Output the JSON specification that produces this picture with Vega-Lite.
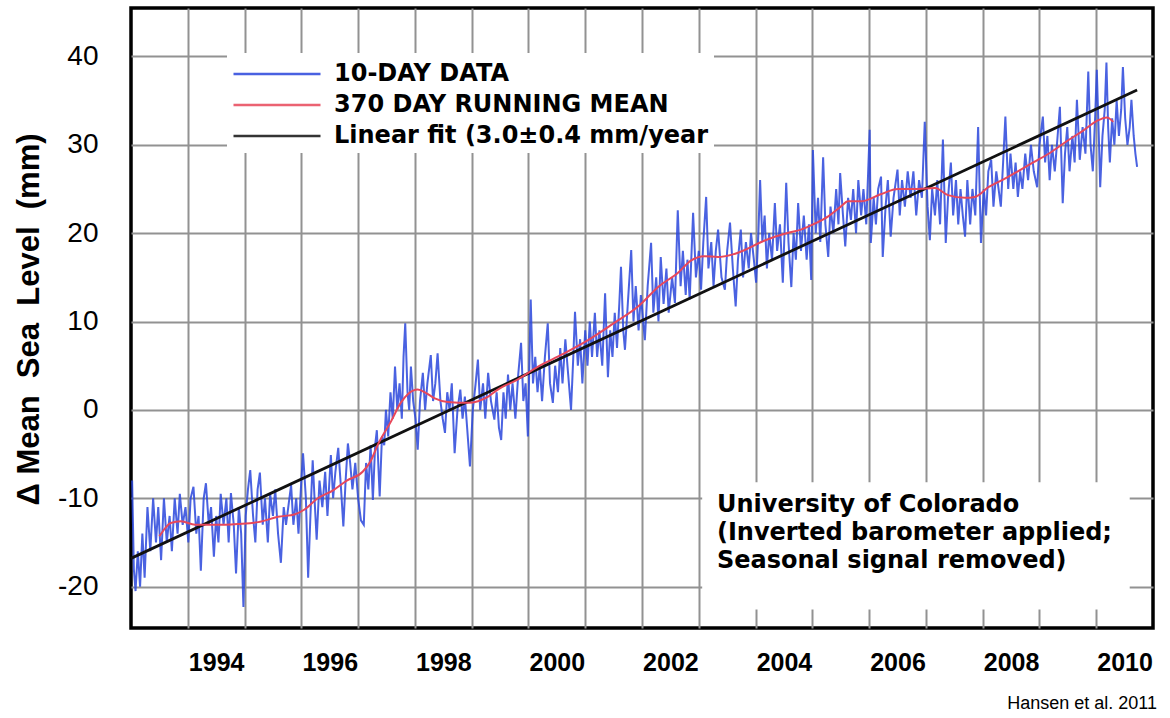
{
  "$schema": "https://vega.github.io/schema/vega-lite/v6.json",
  "width": 1022,
  "height": 620,
  "autosize": "none",
  "padding": {"left": 131, "top": 8, "right": 17, "bottom": 90},
  "background": "white",
  "title": {"text": "Hansen et al. 2011", "orient": "bottom", "anchor": "end", "font": "Liberation Sans", "fontSize": 18, "fontWeight": "normal", "color": "black", "offset": 20, "dx": 4},
  "config": {
    "view": {"stroke": "black", "strokeWidth": 3.5},
    "axis": {"gridColor": "#929292", "gridWidth": 2, "gridOpacity": 1, "ticks": false, "tickSize": 0, "domain": false, "labelColor": "black"}
  },
  "datasets": {
    "blue": [
      {"t":1992.52,"v":-8},{"t":1992.55,"v":-18},{"t":1992.58,"v":-20.5},{"t":1992.62,"v":-16},{"t":1992.66,"v":-20},{"t":1992.70,"v":-14},{"t":1992.74,"v":-19},{"t":1992.79,"v":-11},{"t":1992.84,"v":-16},{"t":1992.89,"v":-10},{"t":1992.94,"v":-15},{"t":1992.98,"v":-11},
      {"t":1993.03,"v":-17},{"t":1993.08,"v":-10},{"t":1993.13,"v":-15},{"t":1993.18,"v":-12},{"t":1993.22,"v":-16},{"t":1993.27,"v":-10},{"t":1993.32,"v":-14},{"t":1993.36,"v":-9.5},{"t":1993.41,"v":-13},{"t":1993.46,"v":-11},{"t":1993.51,"v":-15},
      {"t":1993.55,"v":-10},{"t":1993.60,"v":-8.7},{"t":1993.65,"v":-14},{"t":1993.69,"v":-12},{"t":1993.73,"v":-18.2},{"t":1993.78,"v":-10},{"t":1993.82,"v":-8.3},{"t":1993.87,"v":-13},{"t":1993.91,"v":-11},{"t":1993.96,"v":-16.6},{"t":1994.00,"v":-12},
      {"t":1994.04,"v":-15},{"t":1994.08,"v":-9.5},{"t":1994.13,"v":-13},{"t":1994.18,"v":-10},{"t":1994.22,"v":-15},{"t":1994.26,"v":-9.4},{"t":1994.31,"v":-13},{"t":1994.35,"v":-18.5},{"t":1994.40,"v":-11},{"t":1994.44,"v":-14},{"t":1994.48,"v":-22.3},{"t":1994.52,"v":-12},
      {"t":1994.56,"v":-9},{"t":1994.60,"v":-6.8},{"t":1994.65,"v":-12},{"t":1994.69,"v":-15},{"t":1994.73,"v":-9},{"t":1994.77,"v":-7.1},{"t":1994.82,"v":-13},{"t":1994.86,"v":-10},{"t":1994.91,"v":-15},{"t":1994.95,"v":-9.5},{"t":1995.00,"v":-12},
      {"t":1995.04,"v":-9},{"t":1995.09,"v":-14},{"t":1995.14,"v":-17.3},{"t":1995.19,"v":-11},{"t":1995.23,"v":-13},{"t":1995.28,"v":-10.5},{"t":1995.32,"v":-8.5},{"t":1995.36,"v":-13},{"t":1995.41,"v":-10},{"t":1995.45,"v":-14},{"t":1995.50,"v":-8},
      {"t":1995.53,"v":-4.9},{"t":1995.58,"v":-10},{"t":1995.62,"v":-19},{"t":1995.66,"v":-12},{"t":1995.70,"v":-5.7},{"t":1995.74,"v":-11},{"t":1995.77,"v":-14.7},{"t":1995.82,"v":-8},{"t":1995.87,"v":-11},{"t":1995.92,"v":-7},{"t":1995.96,"v":-12},{"t":1996.02,"v":-5.1},
      {"t":1996.06,"v":-10},{"t":1996.10,"v":-7},{"t":1996.15,"v":-4.3},{"t":1996.20,"v":-9},{"t":1996.24,"v":-13.2},{"t":1996.28,"v":-8},{"t":1996.32,"v":-3.8},{"t":1996.36,"v":-6},{"t":1996.40,"v":-9},{"t":1996.45,"v":-6},{"t":1996.50,"v":-10},
      {"t":1996.55,"v":-12.5},{"t":1996.60,"v":-13},{"t":1996.64,"v":-6},{"t":1996.68,"v":-9},{"t":1996.72,"v":-4},{"t":1996.76,"v":-10.2},{"t":1996.80,"v":-4},{"t":1996.83,"v":-2.3},{"t":1996.88,"v":-9.8},{"t":1996.92,"v":-3},{"t":1996.96,"v":-4},{"t":1996.99,"v":0},
      {"t":1997.03,"v":-3},{"t":1997.07,"v":2},{"t":1997.11,"v":-1},{"t":1997.15,"v":4.9},{"t":1997.19,"v":0},{"t":1997.23,"v":3},{"t":1997.27,"v":-1},{"t":1997.30,"v":6},{"t":1997.33,"v":9.8},{"t":1997.37,"v":2},{"t":1997.40,"v":0},{"t":1997.43,"v":4.9},{"t":1997.47,"v":1},{"t":1997.51,"v":-1},
      {"t":1997.55,"v":-4.5},{"t":1997.59,"v":1},{"t":1997.64,"v":4.2},{"t":1997.68,"v":0},{"t":1997.72,"v":3},{"t":1997.78,"v":6.2},{"t":1997.82,"v":1},{"t":1997.86,"v":3},{"t":1997.90,"v":6.4},{"t":1997.95,"v":1},{"t":1997.99,"v":-1},
      {"t":1998.03,"v":-2.6},{"t":1998.07,"v":2},{"t":1998.11,"v":0},{"t":1998.15,"v":3},{"t":1998.20,"v":-4.9},{"t":1998.25,"v":0},{"t":1998.30,"v":2.3},{"t":1998.34,"v":-1},{"t":1998.38,"v":1.5},{"t":1998.42,"v":-2},{"t":1998.47,"v":-6.4},
      {"t":1998.52,"v":0},{"t":1998.57,"v":3},{"t":1998.61,"v":5.7},{"t":1998.65,"v":0},{"t":1998.70,"v":3},{"t":1998.74,"v":-1},{"t":1998.79,"v":4.2},{"t":1998.84,"v":1},{"t":1998.90,"v":-1.1},{"t":1998.94,"v":2},{"t":1998.98,"v":-2},
      {"t":1999.02,"v":-3.4},{"t":1999.06,"v":2},{"t":1999.10,"v":-1},{"t":1999.14,"v":4},{"t":1999.18,"v":0},{"t":1999.22,"v":3},{"t":1999.27,"v":-1},{"t":1999.32,"v":4},{"t":1999.37,"v":7.6},{"t":1999.41,"v":1},{"t":1999.45,"v":3},{"t":1999.49,"v":-3},
      {"t":1999.54,"v":12.5},{"t":1999.58,"v":3},{"t":1999.62,"v":6},{"t":1999.66,"v":2},{"t":1999.70,"v":5},{"t":1999.74,"v":1},{"t":1999.79,"v":6},{"t":1999.84,"v":9.8},{"t":1999.88,"v":3},{"t":1999.93,"v":0.8},{"t":1999.97,"v":5},
      {"t":2000.02,"v":2},{"t":2000.06,"v":7},{"t":2000.10,"v":3},{"t":2000.15,"v":8},{"t":2000.20,"v":4},{"t":2000.25,"v":0},{"t":2000.29,"v":6},{"t":2000.32,"v":11.1},{"t":2000.37,"v":5},{"t":2000.41,"v":8},{"t":2000.45,"v":3},{"t":2000.50,"v":9},
      {"t":2000.54,"v":5},{"t":2000.58,"v":10},{"t":2000.62,"v":6},{"t":2000.67,"v":11},{"t":2000.71,"v":6},{"t":2000.75,"v":9},{"t":2000.80,"v":5},{"t":2000.85,"v":13.2},{"t":2000.90,"v":3.7},{"t":2000.94,"v":9},{"t":2000.98,"v":6},
      {"t":2001.02,"v":11},{"t":2001.06,"v":7},{"t":2001.10,"v":12},{"t":2001.13,"v":16.2},{"t":2001.17,"v":9},{"t":2001.20,"v":6.8},{"t":2001.25,"v":12},{"t":2001.31,"v":18.1},{"t":2001.35,"v":10},{"t":2001.39,"v":14},{"t":2001.44,"v":9},{"t":2001.48,"v":13},
      {"t":2001.55,"v":7.9},{"t":2001.60,"v":14},{"t":2001.66,"v":18.9},{"t":2001.70,"v":11},{"t":2001.75,"v":15},{"t":2001.79,"v":10},{"t":2001.83,"v":17.3},{"t":2001.88,"v":12},{"t":2001.93,"v":16},{"t":2001.97,"v":11},
      {"t":2002.03,"v":15},{"t":2002.08,"v":12.1},{"t":2002.13,"v":22.6},{"t":2002.18,"v":14},{"t":2002.22,"v":18},{"t":2002.27,"v":13},{"t":2002.30,"v":17},{"t":2002.34,"v":12.5},{"t":2002.40,"v":22.3},{"t":2002.45,"v":15},{"t":2002.50,"v":18},
      {"t":2002.54,"v":13.6},{"t":2002.58,"v":19},{"t":2002.63,"v":24.1},{"t":2002.67,"v":16},{"t":2002.72,"v":19},{"t":2002.76,"v":14},{"t":2002.80,"v":18},{"t":2002.84,"v":20.4},{"t":2002.90,"v":15},{"t":2002.96,"v":13.6},{"t":2003.00,"v":18},
      {"t":2003.05,"v":21.2},{"t":2003.10,"v":16},{"t":2003.15,"v":11.7},{"t":2003.19,"v":17},{"t":2003.24,"v":20.4},{"t":2003.28,"v":15},{"t":2003.33,"v":19},{"t":2003.38,"v":16},{"t":2003.42,"v":20},{"t":2003.47,"v":17},{"t":2003.51,"v":14.4},
      {"t":2003.55,"v":20},{"t":2003.58,"v":26},{"t":2003.62,"v":19},{"t":2003.66,"v":22},{"t":2003.70,"v":16},{"t":2003.74,"v":20},{"t":2003.79,"v":17},{"t":2003.84,"v":23.4},{"t":2003.88,"v":18},{"t":2003.93,"v":21},{"t":2003.98,"v":14.4},
      {"t":2004.04,"v":25.7},{"t":2004.08,"v":19},{"t":2004.13,"v":13.9},{"t":2004.17,"v":20},{"t":2004.21,"v":17},{"t":2004.25,"v":23.4},{"t":2004.30,"v":18},{"t":2004.35,"v":22},{"t":2004.40,"v":17},{"t":2004.44,"v":21},{"t":2004.48,"v":14.7},
      {"t":2004.51,"v":29.4},{"t":2004.56,"v":20},{"t":2004.60,"v":24},{"t":2004.64,"v":19},{"t":2004.69,"v":28.6},{"t":2004.73,"v":21},{"t":2004.78,"v":17.3},{"t":2004.82,"v":23},{"t":2004.87,"v":20},{"t":2004.92,"v":25},{"t":2004.96,"v":21},{"t":2004.99,"v":26.8},
      {"t":2005.04,"v":22},{"t":2005.08,"v":18.5},{"t":2005.13,"v":24},{"t":2005.18,"v":21.5},{"t":2005.22,"v":25},{"t":2005.27,"v":20},{"t":2005.31,"v":26},{"t":2005.36,"v":22},{"t":2005.40,"v":25},{"t":2005.45,"v":21},{"t":2005.51,"v":31.7},
      {"t":2005.53,"v":18.9},{"t":2005.58,"v":24},{"t":2005.62,"v":21},{"t":2005.66,"v":25},{"t":2005.71,"v":26.4},{"t":2005.74,"v":17.3},{"t":2005.79,"v":23},{"t":2005.83,"v":26},{"t":2005.88,"v":19.6},{"t":2005.93,"v":24},{"t":2006.00,"v":27.2},
      {"t":2006.04,"v":22},{"t":2006.08,"v":26},{"t":2006.13,"v":23},{"t":2006.18,"v":27},{"t":2006.23,"v":24},{"t":2006.28,"v":27},{"t":2006.33,"v":22},{"t":2006.38,"v":26},{"t":2006.43,"v":24},{"t":2006.48,"v":32.6},
      {"t":2006.53,"v":23},{"t":2006.57,"v":19.2},{"t":2006.61,"v":25},{"t":2006.66,"v":22},{"t":2006.70,"v":26},{"t":2006.75,"v":21},{"t":2006.80,"v":30.6},{"t":2006.85,"v":18.9},{"t":2006.89,"v":24},{"t":2006.94,"v":28},{"t":2006.98,"v":22},
      {"t":2007.03,"v":26},{"t":2007.07,"v":21},{"t":2007.11,"v":25},{"t":2007.15,"v":22},{"t":2007.19,"v":19.6},{"t":2007.23,"v":26},{"t":2007.28,"v":21},{"t":2007.32,"v":25},{"t":2007.37,"v":22},{"t":2007.42,"v":32},{"t":2007.47,"v":18.9},
      {"t":2007.52,"v":25},{"t":2007.56,"v":22},{"t":2007.60,"v":27},{"t":2007.65,"v":28.3},{"t":2007.69,"v":23},{"t":2007.74,"v":27},{"t":2007.78,"v":25},{"t":2007.82,"v":23},{"t":2007.86,"v":28},{"t":2007.90,"v":33.2},{"t":2007.95,"v":25},{"t":2007.99,"v":29},
      {"t":2008.04,"v":25},{"t":2008.08,"v":28},{"t":2008.12,"v":24.1},{"t":2008.16,"v":27},{"t":2008.20,"v":25},{"t":2008.25,"v":29},{"t":2008.30,"v":26},{"t":2008.35,"v":30},{"t":2008.40,"v":27},{"t":2008.46,"v":25.2},{"t":2008.50,"v":30},
      {"t":2008.56,"v":33.2},{"t":2008.60,"v":28},{"t":2008.64,"v":31},{"t":2008.68,"v":26},{"t":2008.72,"v":30},{"t":2008.77,"v":27},{"t":2008.82,"v":31},{"t":2008.86,"v":34.3},{"t":2008.91,"v":23.4},{"t":2008.95,"v":29},{"t":2008.99,"v":32},
      {"t":2009.03,"v":27},{"t":2009.08,"v":31},{"t":2009.12,"v":28},{"t":2009.16,"v":35.1},{"t":2009.21,"v":28.3},{"t":2009.26,"v":32},{"t":2009.31,"v":29},{"t":2009.36,"v":38.3},{"t":2009.40,"v":30},{"t":2009.44,"v":27},{"t":2009.48,"v":33},{"t":2009.51,"v":38.5},
      {"t":2009.55,"v":30},{"t":2009.57,"v":25.2},{"t":2009.61,"v":31},{"t":2009.65,"v":34},{"t":2009.68,"v":39.3},{"t":2009.71,"v":32},{"t":2009.74,"v":28},{"t":2009.78,"v":33},{"t":2009.82,"v":30},{"t":2009.86,"v":35},{"t":2009.90,"v":31},{"t":2009.94,"v":34},{"t":2009.97,"v":38.8},
      {"t":2010.01,"v":33},{"t":2010.05,"v":30},{"t":2010.09,"v":32},{"t":2010.12,"v":35.1},{"t":2010.16,"v":31},{"t":2010.19,"v":29},{"t":2010.22,"v":27.5}
    ],
    "red": [
      {"t":1993.0,"v":-14.3},{"t":1993.1,"v":-13.4},{"t":1993.2,"v":-12.8},{"t":1993.38,"v":-12.6},{"t":1993.63,"v":-13.0},{"t":1993.98,"v":-13.0},{"t":1994.38,"v":-12.9},{"t":1994.74,"v":-12.7},{"t":1995.09,"v":-12.1},{"t":1995.39,"v":-11.8},{"t":1995.55,"v":-11.3},{"t":1995.79,"v":-10.0},{"t":1996.06,"v":-9.1},{"t":1996.3,"v":-8.0},{"t":1996.58,"v":-7.0},{"t":1996.72,"v":-5.8},{"t":1996.85,"v":-3.9},{"t":1997.08,"v":-1.3},{"t":1997.25,"v":0.8},{"t":1997.38,"v":1.8},{"t":1997.55,"v":2.3},{"t":1997.7,"v":1.9},{"t":1997.85,"v":1.3},{"t":1998.08,"v":0.9},{"t":1998.44,"v":0.8},{"t":1998.79,"v":1.5},{"t":1998.96,"v":2.3},{"t":1999.3,"v":3.4},{"t":1999.67,"v":4.9},{"t":2000.1,"v":6.3},{"t":2000.55,"v":7.9},{"t":2001.0,"v":9.8},{"t":2001.43,"v":11.7},{"t":2001.8,"v":14.0},{"t":2002.13,"v":15.5},{"t":2002.36,"v":16.9},{"t":2002.6,"v":17.4},{"t":2002.84,"v":17.3},{"t":2003.1,"v":17.6},{"t":2003.31,"v":18.1},{"t":2003.6,"v":19.0},{"t":2003.84,"v":19.6},{"t":2004.05,"v":20.0},{"t":2004.3,"v":20.4},{"t":2004.55,"v":21.1},{"t":2004.78,"v":21.9},{"t":2005.0,"v":23.0},{"t":2005.13,"v":23.6},{"t":2005.36,"v":23.6},{"t":2005.7,"v":24.4},{"t":2006.01,"v":25.0},{"t":2006.36,"v":25.0},{"t":2006.66,"v":25.1},{"t":2006.89,"v":24.3},{"t":2007.19,"v":24.0},{"t":2007.36,"v":24.1},{"t":2007.6,"v":25.2},{"t":2007.9,"v":26.2},{"t":2008.12,"v":27.0},{"t":2008.39,"v":28.0},{"t":2008.69,"v":29.1},{"t":2008.98,"v":30.4},{"t":2009.27,"v":31.6},{"t":2009.51,"v":32.7},{"t":2009.69,"v":33.1},{"t":2009.8,"v":32.6}
    ],
    "fit": [
      {"t":1992.5,"v":-16.8},{"t":2010.22,"v":36.2}
    ],
    "box": [
      {"t1":2002.56,"t2":2010.09,"v1":-8.2,"v2":-22.6}
    ],
    "note": [
      {"t":2002.82,"v":-11.55,"txt":"University of Colorado"},
      {"t":2002.82,"v":-14.72,"txt":"(Inverted barometer applied;"},
      {"t":2002.82,"v":-17.89,"txt":"Seasonal signal removed)"}
    ]
  },
  "encoding": {
    "x": {"field": "t", "type": "quantitative",
      "scale": {"domain": [1992.5, 2010.5], "nice": false, "zero": false},
      "axis": {"title": null, "grid": true,
        "values": [1993.5,1994.5,1995.5,1996.5,1997.5,1998.5,1999.5,2000.5,2001.5,2002.5,2003.5,2004.5,2005.5,2006.5,2007.5,2008.5,2009.5],
        "labelExpr": "(datum.value + 0.5) % 2 == 0 ? format(datum.value + 0.5, 'd') : ''",
        "labelOffset": 28.4, "labelPadding": 22, "labelFont": "Liberation Sans", "labelFontWeight": "bold", "labelFontSize": 25,
        "labelOverlap": false, "labelFlush": false, "labelBound": false}},
    "y": {"field": "v", "type": "quantitative",
      "scale": {"domain": [-24.68, 45.48], "nice": false, "zero": false},
      "axis": {"grid": true, "values": [-20,-10,0,10,20,30,40],
        "labelExpr": "'' + datum.value", "labelPadding": 33, "labelFont": "Liberation Sans", "labelFontSize": 28, "labelFontWeight": "normal",
        "title": "Δ\u00a0Mean\u00a0\u00a0Sea\u00a0\u00a0Level\u00a0\u00a0(mm)", "titleFont": "Liberation Sans", "titleFontWeight": "bold", "titleFontSize": 31, "titleColor": "black",
        "titleAngle": -90, "titleX": -93, "titleY": 311, "titleAlign": "center", "titleBaseline": "alphabetic"}}
  },
  "layer": [
    {
      "data": {"name": "blue"},
      "mark": {"type": "line", "strokeWidth": 2, "opacity": 0.85, "clip": true},
      "encoding": {
        "color": {"datum": "10-DAY DATA", "type": "nominal",
          "scale": {"domain": ["10-DAY DATA", "370 DAY RUNNING MEAN", "Linear fit (3.0±0.4 mm/year"], "range": ["#2a46dc", "#e8475a", "#111111"]},
          "legend": {"title": null, "orient": "none", "legendX": 96, "legendY": 45, "fillColor": "white", "padding": 5,
            "symbolType": "M-1,0L5,0", "symbolSize": 841, "symbolStrokeWidth": 2.5, "labelOffset": 70, "rowPadding": 3,
            "labelFont": "DejaVu Sans", "labelFontWeight": "bold", "labelFontSize": 24, "labelColor": "black", "labelLimit": 0}}
      }
    },
    {
      "data": {"name": "fit"},
      "mark": {"type": "line", "strokeWidth": 2.8},
      "encoding": {"color": {"datum": "Linear fit (3.0±0.4 mm/year", "type": "nominal"}}
    },
    {
      "data": {"name": "red"},
      "mark": {"type": "line", "strokeWidth": 2, "interpolate": "monotone"},
      "encoding": {"color": {"datum": "370 DAY RUNNING MEAN", "type": "nominal"}}
    },
    {
      "data": {"name": "box"},
      "mark": {"type": "rect", "fill": "white"},
      "encoding": {
        "x": {"field": "t1", "type": "quantitative"},
        "x2": {"field": "t2"},
        "y": {"field": "v1", "type": "quantitative"},
        "y2": {"field": "v2"}
      }
    },
    {
      "data": {"name": "note"},
      "mark": {"type": "text", "align": "left", "baseline": "alphabetic", "font": "DejaVu Sans", "fontWeight": "bold", "fontSize": 24, "color": "black"},
      "encoding": {"text": {"field": "txt", "type": "nominal"}}
    }
  ]
}
